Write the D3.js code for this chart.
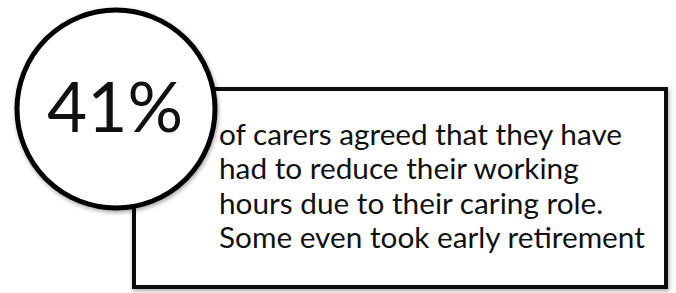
<!DOCTYPE html>
<html>
<head>
<meta charset="utf-8">
<script src="https://cdn.jsdelivr.net/npm/d3@7"></script>
<style>
  html, body { margin: 0; padding: 0; background: #fff; }
  svg { display: block; }
</style>
</head>
<body>
<svg id="card"></svg>
<script>
// values
const statValues = [41];
const statLabels = statValues.map((v) => v + '%');
const bodyLines = [
  'of carers agreed that they have',
  'had to reduce their working',
  'hours due to their caring role.',
  'Some even took early retirement'
];

const width = 676;
const height = 293;
const font = 'Lato, "Open Sans", sans-serif';

const svg = d3.select('#card')
  .attr('width', width)
  .attr('height', height);

const defs = svg.append('defs');
const shadow = defs.append('filter').attr('id', 'shadow')
  .attr('x', '-20%').attr('y', '-20%').attr('width', '140%').attr('height', '140%');
shadow.append('feDropShadow')
  .attr('dx', 1).attr('dy', 2).attr('stdDeviation', 2)
  .attr('flood-color', '#000').attr('flood-opacity', 0.35);

// box with the sentence
const box = svg.append('g');
box.append('rect')
  .attr('x', 134)
  .attr('y', 89)
  .attr('width', 532)
  .attr('height', 198)
  .attr('fill', '#fff')
  .attr('stroke', '#111')
  .attr('stroke-width', 4)
  .attr('filter', 'url(#shadow)');

// baselines spread over the lines with a band scale
const lineY = d3.scalePoint()
  .domain(d3.range(bodyLines.length))
  .range([145, 248]);

const body = box.append('g');
body.selectAll('text')
  .data(bodyLines)
  .enter().append('text')
  .attr('x', 219)
  .attr('y', (d, i) => lineY(i))
  .attr('fill', '#111')
  .style('font-family', font)
  .style('font-size', '28px')
  .text((d) => d);

// fit font size so the longest line matches the picture
const longest = d3.max(body.selectAll('text').nodes(), (n) => n.getComputedTextLength());
const bodySize = 28 * 426 / longest;
body.selectAll('text').style('font-size', bodySize + 'px');

// circle with the figure
const badge = svg.append('g');
badge.selectAll('circle')
  .data(statValues)
  .enter().append('circle')
  .attr('cx', 116)
  .attr('cy', 109)
  .attr('r', 99)
  .attr('fill', '#fff')
  .attr('stroke', '#000')
  .attr('stroke-width', 5)
  .attr('filter', 'url(#shadow)');

const stat = badge.selectAll('text')
  .data(statLabels)
  .enter().append('text')
  .attr('x', 115)
  .attr('y', 132)
  .attr('text-anchor', 'middle')
  .attr('fill', '#111')
  .style('font-family', font)
  .style('font-size', '70px')
  .text((d) => d);

const statLen = stat.node().getComputedTextLength();
stat.style('font-size', (70 * 136 / statLen) + 'px');
</script>
</body>
</html>
